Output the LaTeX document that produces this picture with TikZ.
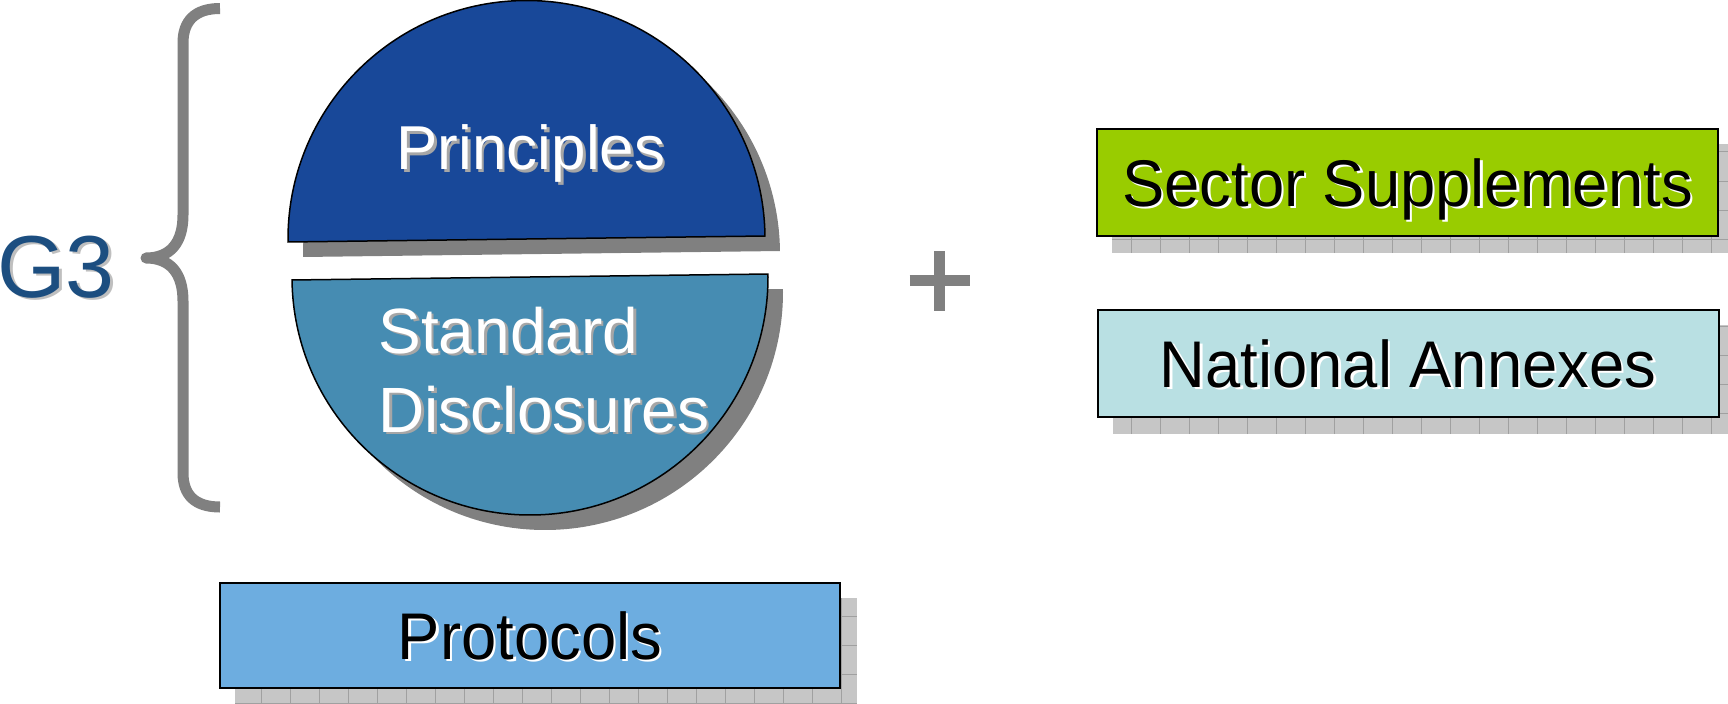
\documentclass[tikz,border=0pt]{standalone}
\usepackage{fontspec}
\setmainfont{Liberation Sans}
\newfontfamily\boxfont[FakeStretch=0.96]{Liberation Sans}
\usetikzlibrary{backgrounds}

\definecolor{gthree}{RGB}{28,78,128}
\definecolor{prinblue}{RGB}{24,72,153}
\definecolor{discblue}{RGB}{70,140,178}
\definecolor{secgreen}{RGB}{153,204,0}
\definecolor{natcyan}{RGB}{185,224,227}
\definecolor{protblue}{RGB}{109,173,224}
\definecolor{bracegray}{RGB}{128,128,128}
\definecolor{gridfill}{RGB}{198,198,198}
\definecolor{gridline}{RGB}{160,160,160}

% text with a small drop shadow
\newcommand{\dropped}[2]{\rlap{\kern1.3pt\raisebox{-1.3pt}{\textcolor{#1}{#2}}}#2}

% tiled shadow behind a box node
\newcommand{\gridshadow}[1]{%
  \begin{scope}[on background layer]
    \begin{scope}
      \fill[gridfill] ([shift={(8pt,-8pt)}]#1.south west) rectangle ([shift={(8pt,-8pt)}]#1.north east);
      \clip ([shift={(8pt,-8pt)}]#1.south west) rectangle ([shift={(8pt,-8pt)}]#1.north east);
      \draw[gridline,line width=0.5pt,step=14.5pt] ([shift={(8pt,-8pt)}]#1.south west) grid ([shift={(8pt,-8pt)}]#1.north east);
    \end{scope}
  \end{scope}}

\begin{document}
\begin{tikzpicture}[x=0.5pt,y=0.5pt,
  halfdisc/.style={draw=black,line width=0.75pt},
  discshadow/.style={fill=bracegray},
  infobox/.style={draw=black,line width=1pt,minimum width=310.5pt,minimum height=53.5pt,inner sep=0pt,
    font=\boxfont\fontsize{33}{40}\selectfont,text height=23.6pt,text depth=0pt},
  disctext/.style={text=white,font=\fontsize{31}{36}\selectfont,inner sep=0pt}]
\useasboundingbox (0,0) rectangle (1728,703);

% the brace
\draw[bracegray,line width=5.5pt,line join=round] (220,694.5) .. controls (195,694.5) and (183,682) .. (183,660) -- (183,488)
  .. controls (183,460) and (170,445) .. (146,445) .. controls (170,445) and (183,430) .. (183,402) -- (183,230)
  .. controls (183,208) and (195,196) .. (220,196);
\node[anchor=base west,inner sep=0pt,text=gthree,font=\fontsize{44}{50}\selectfont] (g3) at (-3,406) {\dropped{black!25}{G3}};

% the two half discs
\coordinate (pc) at (526.5,464);
\coordinate (sc) at (530,426);
\fill[discshadow] ([shift={(15,-15)}]pc) ++(0.72:238.5) arc (0.72:180.72:238.5) -- cycle;
\fill[discshadow] ([shift={(15,-15)}]sc) ++(180.72:238) arc (180.72:360.72:238) -- cycle;
\draw[halfdisc,fill=prinblue] (pc) ++(0.72:238.5) arc (0.72:180.72:238.5) -- cycle;
\draw[halfdisc,fill=discblue] (sc) ++(180.72:238) arc (180.72:360.72:238) -- cycle;
\node[disctext,anchor=base] (prin) at (531,533) {\dropped{black!35}{Principles}};
\node[disctext,anchor=base west,align=left,font=\fontsize{32}{39.5}\selectfont] (stdd) at (378,271)
  {\dropped{black!35}{Standard}\\\dropped{black!35}{Disclosures}};

% plus sign
\draw[bracegray,line width=5.5pt] (909.5,422.5) -- (969.5,422.5) (939.5,392.5) -- (939.5,452.5);

% boxes
\node[infobox,fill=secgreen] (sector) at (1407.5,520.5) {\dropped{white}{Sector Supplements}};
\node[infobox,fill=natcyan] (national) at (1408,339.5) {\dropped{white}{National Annexes}};
\node[infobox,fill=protblue,minimum width=310pt,minimum height=52.5pt] (protocols) at (530,67.5) {\dropped{white}{Protocols}};
\gridshadow{sector}
\gridshadow{national}
\gridshadow{protocols}
\end{tikzpicture}
\end{document}
